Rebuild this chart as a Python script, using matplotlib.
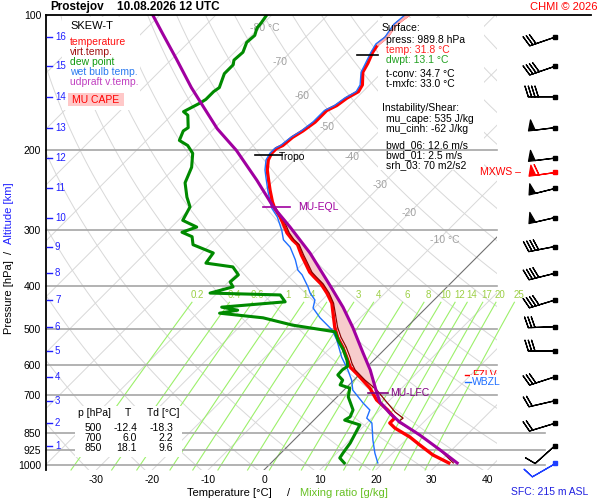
import numpy as np
import matplotlib
matplotlib.use("Agg")
import matplotlib.pyplot as plt
from matplotlib.transforms import blended_transform_factory as btf
from matplotlib.patches import Rectangle
from matplotlib.lines import Line2D
from matplotlib.ticker import NullLocator

plt.rcParams['font.family'] = ['Liberation Sans', 'DejaVu Sans']

# ---------------- data (pressure hPa, temperature degC) ----------------
temp_p = [100,105,112,116,121,128,134,143,148,153,159,163,169,173,181,187,195,198,203,210,221,229,245,260,269,281,290,305,316,324,342,354,373,382,396,415,437,460,494,520,547,576,606,631,675,717,755,787,807,828,867,903,950,990]
temp_t = [-55.6,-56.2,-55.5,-55.8,-55.3,-54.2,-53.5,-51.3,-50.8,-51.7,-52.2,-53.1,-53.1,-53.1,-53.7,-54.4,-54.7,-55.3,-55.3,-54.7,-53.1,-51.7,-49.0,-46.5,-44.9,-42.4,-40.8,-38.3,-36.1,-34.3,-31.7,-29.9,-27.2,-25.6,-23.1,-20.4,-17.7,-15.7,-12.9,-10.6,-7.9,-5.4,-3.0,-0.2,4.3,7.6,11.4,14.1,14.1,15.9,20.2,23.4,27.5,31.8]
virt_p = [269,281,290,305,316,324,342,354,373,382,396,415,437,460,494,520,547,576,594,615,648,682,725,763,787,803,824,858,903,941,990]
virt_t = [-44.7,-42.2,-40.4,-37.9,-35.8,-34.0,-31.3,-29.5,-26.8,-25.2,-22.7,-20.0,-17.4,-15.3,-12.4,-10.0,-7.3,-4.8,-3.4,-1.6,2.0,5.9,9.8,13.1,15.6,15.4,17.9,21.6,25.8,29.0,32.6]
parc_p = [100,110,125,145,160,179,200,233,267,296,338,402,446,494,564,615,692,725,767,803,858,926,990]
parc_t = [-101.3,-96.2,-89.3,-81.4,-75.8,-69.4,-62.1,-53.1,-45.4,-38.8,-30.6,-20.8,-15.0,-9.7,-3.2,1.1,6.4,8.6,12.3,15.7,21.6,27.9,33.3]
dew_p = [100,104,107,111,115,121,126,129,135,145,148,154,157,164,167,178,181,190,195,203,218,236,254,267,286,296,304,311,324,338,356,363,378,392,402,415,419,434,446,453,460,471,489,506,528,555,585,603,615,631,648,664,675,706,755,782,795,815,836,894,941,965,990]
dew_t = [-80.9,-80.5,-80.3,-79.4,-79.6,-78.5,-78.7,-78.0,-78.0,-76.4,-76.7,-76.7,-77.1,-78.5,-77.1,-74.8,-75.1,-74.1,-71.7,-69.4,-67.1,-65.5,-62.6,-60.3,-59.2,-55.5,-57.2,-54.6,-53.0,-47.9,-47.4,-41.9,-39.5,-39.7,-38.3,-41.3,-28.4,-26.3,-36.7,-33.3,-36.0,-27.4,-20.8,-12.0,-10.0,-7.3,-4.8,-3.6,-3.9,-3.8,-2.0,-1.6,0.7,2.0,5.2,5.9,5.5,9.1,9.5,10.6,11.1,11.4,13.1]
wet_p = [100,105,112,116,121,128,134,143,148,153,159,163,169,173,181,187,195,198,203,210,221,229,245,260,269,281,301,316,328,350,369,378,402,415,430,448,471,501,528,576,615,648,682,728,755,787,807,880,941,990]
wet_t = [-56.2,-56.5,-55.8,-56.2,-55.6,-54.6,-53.8,-51.7,-51.2,-52.1,-52.6,-53.5,-53.5,-53.5,-54.0,-54.7,-55.1,-55.6,-55.6,-55.1,-53.5,-52.1,-49.4,-46.9,-45.4,-42.9,-39.7,-37.7,-35.2,-32.0,-29.7,-28.1,-24.9,-23.4,-21.3,-20.2,-17.2,-12.9,-10.2,-6.3,-2.9,-0.4,1.6,5.7,8.2,9.1,10.9,14.1,16.8,19.1]
alt_km = list(range(1, 17))
alt_p = [906,808,720,637,558,493,430,375,327,282,243,208,178,152,130,112]
wind_dir = [228,253,257,252,270,268,253,256,259,257,256,263,263,270,251,251]
wind_spd = [10,20,20,30,30,30,40,40,40,50,50,50,50,40,40,30]
sfc_p, sfc_dir, sfc_spd = 989.8, 240, 10
mxws_p, mxws_dir, mxws_spd = 223, 262, 60
tropo_p = [205, 123]
eql_p, lfc_p = 267, 692
fzlv_p, wbzl_p = 631, 654
mr_vals = [0.2,0.4,0.6,1,1.4,2,3,4,6,8,10,12,14,17,20,25]
mr_labels = ['0.2','0.4','0.6','1','1.4','2','3','4','6','8','10','12','14','17','20','25']
iso_labels = [-80,-70,-60,-50,-40,-30,-20,-10]
iso_lab_p = [107,127,151,177,207,239,275,316]
p_ticks = [100,200,300,400,500,600,700,850,925,1000]
t_ticks = [-30,-20,-10,0,10,20,30,40]
tab_p = [500, 700, 850]
tab_t = [-12.4, 6.0, 18.1]
tab_td = [-18.3, 2.2, 9.6]

temp_p, temp_t = np.array(temp_p, float), np.array(temp_t, float)
virt_p, virt_t = np.array(virt_p, float), np.array(virt_t, float)
parc_p, parc_t = np.array(parc_p, float), np.array(parc_t, float)
dew_p, dew_t = np.array(dew_p, float), np.array(dew_t, float)
wet_p, wet_t = np.array(wet_p, float), np.array(wet_t, float)

# ---------------- skew-T geometry ----------------
SKEW = 195.4/5.59
P_BOT = 100*np.exp(455/195.4)
P_TOP = 100.0
def sx(t, p): return np.asarray(t, float) + SKEW*np.log(P_BOT/np.asarray(p, float))

fig = plt.figure(figsize=(6, 5), dpi=100)
fig.patch.set_facecolor('white')
PXL, PXR, PXT, PXB = 46, 497, 15, 470
X0, SC = 264.0, 5.59
ax = fig.add_axes([PXL/600, 1-PXB/500, (PXR-PXL)/600, (PXB-PXT)/500])
ax.set_yscale('log')
def fx(x): return x/600
def fy(y): return 1-y/500

pp = np.logspace(np.log10(P_TOP), np.log10(P_BOT), 200)
for t0 in range(-170, 60, 10):
    ax.plot(sx(t0, pp), pp, color='#707070' if t0 == 0 else '#d8d8d8', lw=0.8 if t0 == 0 else 0.7, zorder=1.2 if t0 == 0 else 1)
for th in range(230, 600, 10):
    ax.plot(sx(th*(pp/1000.0)**0.2857-273.15, pp), pp, color='#d8d8d8', lw=0.7, zorder=1)
pm = np.logspace(np.log10(435), np.log10(P_BOT), 100)
def tdew(w, p):
    e = w*p/(622.0+w); l = np.log(e/6.112); return 243.5*l/(17.67-l)
for w, s in zip(mr_vals, mr_labels):
    ax.plot(sx(tdew(w, pm), pm), pm, color='#9cf06a', lw=0.8, zorder=1.1, clip_on=False)
    ax.text(sx(tdew(w, 419), 419), 419, s, color='#9ccf45', fontsize=7, ha='center', va='center', zorder=1.3, clip_on=False)

tr = btf(ax.transAxes, ax.transData)
for p in p_ticks[1:]:
    xr = 1.0 if p < 800 else (545-PXL)/(PXR-PXL)
    ax.plot([0, xr], [p, p], transform=tr, color='#a6a6a6', lw=1.2, zorder=2, clip_on=False)

for t0, p in zip(iso_labels, iso_lab_p):
    lab = f"{t0} \u00b0C" if t0 in (-80, -10) else f"{t0}"
    ax.text(sx(t0, p)-1.5, p, lab, color='#a0a0a0', fontsize=7.5, ha='left', va='center', zorder=1.5)

def rect(x0, y0, x1, y1, z, fc='white'):
    ax.add_artist(Rectangle((fx(x0), fy(y1)), (x1-x0)/600, (y1-y0)/500, transform=fig.transFigure,
                            facecolor=fc, edgecolor='none', zorder=z, clip_on=False))
rect(62, 17, 140, 110, 1.8)
rect(378, 18, 484, 170, 1.8)
rect(75, 406, 182, 457, 2.5)

# CAPE area between environment virtual temperature and parcel
lnp = np.linspace(np.log(eql_p), np.log(lfc_p), 200)
xv = np.interp(lnp, np.log(virt_p), sx(virt_t, virt_p))
xpc = np.interp(lnp, np.log(parc_p), sx(parc_t, parc_p))
ax.fill_betweenx(np.exp(lnp), xv, xpc, where=xpc >= xv, color='#f7cccc', lw=0, zorder=3)

ax.plot(sx(temp_t, temp_p), temp_p, color='#ff0000', lw=2.4, zorder=4, solid_joinstyle='round')
m = temp_p < 118
ax.plot(sx(temp_t[m], temp_p[m]), temp_p[m], color='#ffa8a8', lw=2.4, zorder=4.1)
ax.plot(sx(virt_t, virt_p), virt_p, color='#8b0000', lw=0.9, zorder=4.2)
ax.plot(sx(wet_t, wet_p), wet_p, color='#1f6fff', lw=1.0, zorder=4.3)
ax.plot(sx(dew_t, dew_p), dew_p, color='#008a00', lw=2.2, zorder=4.4)
ax.plot(sx(parc_t, parc_p), parc_p, color='#a000a0', lw=2.2, zorder=4.5)

def seg(p, on_parcel, a, b, col):
    if on_parcel:
        x = np.interp(np.log(p), np.log(parc_p), sx(parc_t, parc_p))
    else:
        x = np.interp(np.log(p), np.log(temp_p), sx(temp_t, temp_p))
    ax.plot([x+a, x+b], [p, p], color=col, lw=1.2, zorder=5)
    return x
x1 = seg(tropo_p[0], False, -2.7, 2.1, 'black')
ax.text(x1+1.4, tropo_p[0]*1.01, 'Tropo', fontsize=7.5, va='center', ha='left', zorder=5)
seg(tropo_p[1], False, -2.5, 1.3, 'black')
xe = seg(eql_p, True, -1.8, 3.0, '#a000a0')
ax.text(xe+4.4, eql_p, 'MU-EQL', fontsize=7.5, color='#a000a0', va='center', ha='left', zorder=5)
xl = seg(lfc_p, True, -1.6, 2.0, '#800080')
ax.text(xl+2.3, lfc_p, 'MU-LFC', fontsize=7.5, color='#800080', va='center', ha='left', zorder=5)

ftr = btf(fig.transFigure, ax.transData)
ax.text(fx(472), fzlv_p, 'FZLV', color='red', fontsize=7.5, va='center', ha='left', transform=ftr, zorder=6)
ax.plot([fx(465), fx(471)], [fzlv_p]*2, color='red', lw=1, transform=ftr, zorder=6, clip_on=False)
ax.text(fx(472), wbzl_p, 'WBZL', color='#1f6fff', fontsize=7.5, va='center', ha='left', transform=ftr, zorder=7,
        bbox=dict(facecolor='white', edgecolor='none', pad=1.2))
ax.plot([fx(465), fx(471)], [wbzl_p]*2, color='#1f6fff', lw=1, transform=ftr, zorder=8, clip_on=False)
ax.text(fx(521), mxws_p, 'MXWS \u2013', color='red', fontsize=7.5, va='center', ha='right', transform=ftr, zorder=6)

for km, p in zip(alt_km, alt_p):
    ax.plot([fx(47), fx(52)], [p, p], color='#2020ff', lw=1, transform=ftr, zorder=6, clip_on=False)
    ax.text(fx(55), p, str(km), color='#2020ff', fontsize=7, va='center', ha='left', transform=ftr, zorder=6)

ax.set_xlim((PXL-X0)/SC, (PXR-X0)/SC)
ax.set_ylim(P_BOT, P_TOP)
ax.yaxis.set_minor_locator(NullLocator())
ax.set_yticks(p_ticks)
ax.set_yticklabels([str(v) for v in p_ticks])
ax.set_xticks(t_ticks)
ax.set_xticklabels([str(v) for v in t_ticks])
ax.tick_params(length=0, labelsize=7.5, pad=3.5)
for s in ['right', 'bottom', 'top']:
    ax.spines[s].set_visible(False)
ax.spines['left'].set_linewidth(1.3)
fig.add_artist(Line2D([fx(46), fx(591)], [fy(15), fy(15)], color='black', lw=1.3))

def ft(x, y, s, **kw):
    kw.setdefault('fontsize', 7.5); kw.setdefault('va', 'center')
    fig.text(fx(x), fy(y), s, **kw)
ft(50, 7, 'Prostejov', fontsize=8.5, fontweight='bold')
ft(117, 7, '10.08.2026 12 UTC', fontsize=8.5, fontweight='bold')
ft(597, 7, 'CHMI \u00a9 2026', color='red', fontsize=8, ha='right')
ft(70, 26, 'SKEW-T', fontsize=8)
ft(70, 42, 'temperature', color='#ff1010')
ft(70, 52, 'virt.temp.', color='#a01010')
ft(70, 62, 'dew point', color='#109a10')
ft(70, 72, 'wet bulb temp.', color='#2a7af0')
ft(70, 82, 'udpraft v.temp.', color='#c040c0')
rect(68, 93, 124, 106, 1.9, fc='#ffc8c8')
ft(96, 100, 'MU CAPE', color='red', ha='center')
ft(382, 28, 'Surface:')
ft(386, 40, 'press: 989.8 hPa')
ft(386, 50, 'temp: 31.8 \u00b0C', color='#ff2020')
ft(386, 60, 'dwpt: 13.1 \u00b0C', color='#22a022')
ft(386, 74, 't-conv: 34.7 \u00b0C')
ft(386, 84, 't-mxfc: 33.0 \u00b0C')
ft(382, 108, 'Instability/Shear:')
ft(386, 119, 'mu_cape: 535 J/kg')
ft(386, 129, 'mu_cinh: -62 J/kg')
ft(386, 145, 'bwd_06: 12.6 m/s')
ft(386, 155, 'bwd_01: 2.5 m/s')
ft(386, 165, 'srh_03: 70 m2/s2')
ft(78, 413, 'p [hPa]'); ft(128, 413, 'T', ha='center'); ft(147, 413, 'Td [\u00b0C]')
for i, (a, b, c) in enumerate(zip(tab_p, tab_t, tab_td)):
    yy = 428 + 10*i
    ft(102, yy, f"{a}", ha='right'); ft(137, yy, f"{b:.1f}", ha='right'); ft(173, yy, f"{c:.1f}", ha='right')
ft(229, 493, 'Temperature [\u00b0C]', fontsize=8, ha='center')
ft(289, 493, '/', fontsize=8, ha='center')
ft(344, 493, 'Mixing ratio [g/kg]', fontsize=8, ha='center', color='#66c022')
ft(550, 492, 'SFC: 215 m ASL', color='#2020e0', fontsize=7.5, ha='center')
ft(9, 297, 'Pressure [hPa]', fontsize=8, ha='center', rotation=90)
ft(9, 252, '/', fontsize=8, ha='center', rotation=90)
ft(9, 213, 'Altitude [km]', fontsize=8, ha='center', rotation=90, color='#2020ff')

# ---------------- wind barbs ----------------
bax = fig.add_axes([500/600, 1-PXB/500, 100/600, (PXB-PXT)/500])
bax.set_yscale('log'); bax.set_ylim(P_BOT, P_TOP); bax.set_xlim(0, 1); bax.axis('off')
def uv(d, s):
    d = np.radians(np.asarray(d, float)); s = np.asarray(s, float)
    return -s*np.sin(d), -s*np.cos(d)
XB = 0.55
def draw_barbs(ps, ds, ss, col):
    u, v = uv(ds, ss)
    xs = np.full(len(ps), XB)
    bax.barbs(xs, ps, u, v, length=6.2, linewidth=0.9, color=col, clip_on=False)
    bax.plot(xs, ps, 's', ms=2.3, color=col, clip_on=False)
draw_barbs(alt_p, wind_dir, wind_spd, 'black')
draw_barbs([sfc_p], [sfc_dir], [sfc_spd], '#1f3fff')
draw_barbs([mxws_p], [mxws_dir], [mxws_spd], 'red')

fig.savefig('out.png', dpi=100)
